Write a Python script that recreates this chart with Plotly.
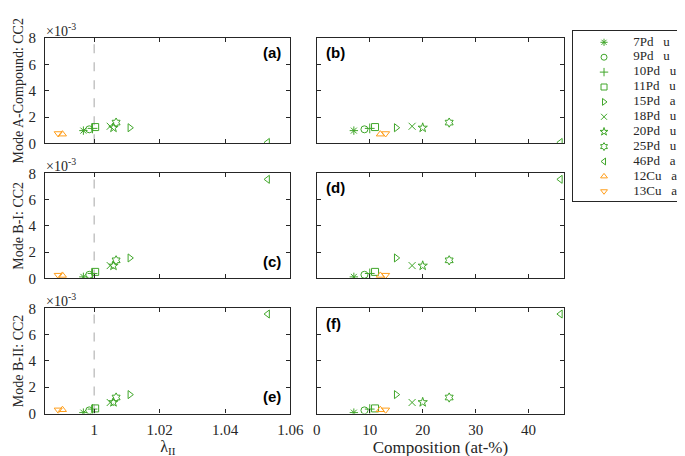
import plotly.graph_objects as go

# ---------------- data ----------------
labels = ["7Pd", "9Pd", "10Pd", "11Pd", "15Pd", "18Pd", "20Pd", "25Pd", "46Pd", "12Cu", "13Cu"]
states = ["u", "u", "u", "u", "a", "u", "u", "u", "a", "a", "a"]
symbols = ["asterisk-open", "circle-open", "cross-thin-open", "square-open",
           "triangle-right-open", "x-thin-open", "star-open", "hexagram-open",
           "triangle-left-open", "triangle-up-open", "triangle-down-open"]
groups = ["Pd"] * 9 + ["Cu"] * 2

lambda_II = [0.9967, 0.9985, 0.9995, 1.0003, 1.0109, 1.0049, 1.0059, 1.0067, 1.0530, 0.9903, 0.9890]
composition = [7, 9, 10, 11, 15, 18, 20, 25, 46, 12, 13]

# CC2 values in units of 1e-3
cc2_A = [0.97, 1.07, 1.14, 1.24, 1.19, 1.30, 1.19, 1.58, 0.07, 0.70, 0.75]
cc2_BI = [0.12, 0.28, 0.38, 0.50, 1.56, 0.98, 0.97, 1.38, 7.54, 0.23, 0.25]
cc2_BII = [0.07, 0.24, 0.34, 0.39, 1.44, 0.84, 0.86, 1.22, 7.57, 0.29, 0.28]

row_titles = ["Mode A-Compound: CC2", "Mode B-I: CC2", "Mode B-II: CC2"]
panel_labels = ["(a)", "(b)", "(c)", "(d)", "(e)", "(f)"]
y_ticks = [0, 2, 4, 6, 8]
lam_ticks = [1, 1.02, 1.04, 1.06]
lam_ticktext = ["1", "1.02", "1.04", "1.06"]
comp_ticks = [0, 10, 20, 30, 40]

colors = {"Pd": "#40a62a", "Cu": "#ff9e1b"}
names = [f"{l}&nbsp;&nbsp;&nbsp;{s}" for l, s in zip(labels, states)]
series_colors = [colors[g] for g in groups]

# ---------------- layout geometry ----------------
W, H = 685, 456
xdom_left = [34 / W, 286 / W]
xdom_right = [313 / W, 567 / W]
rows_px = [(23, 132), (163, 272), (303, 412)]
ydoms = [[1 - b / H, 1 - t / H] for t, b in rows_px]
leg_x = [576 / W, 683 / W]
leg_y = [1 - 192 / H, 1 - 16 / H]

serif = "Liberation Serif, Times New Roman, serif"
axcol = "#262626"
tickfont = dict(family=serif, size=15, color=axcol)

fig = go.Figure()
layout = dict(
    width=W, height=H, margin=dict(l=0, r=0, t=0, b=0),
    plot_bgcolor="white", paper_bgcolor="white",
    font=dict(family=serif, size=13, color=axcol),
    showlegend=False,
)

yvals = [cc2_A, cc2_BI, cc2_BII]
annotations = []
shapes = []
for r in range(3):
    for c in range(2):
        idx = r * 2 + c + 1
        xa = "x" if idx == 1 else f"x{idx}"
        ya = "y" if idx == 1 else f"y{idx}"
        xvals = lambda_II if c == 0 else composition
        for i in range(len(names)):
            fig.add_trace(go.Scatter(
                x=[xvals[i]], y=[yvals[r][i]], xaxis=xa, yaxis=ya,
                mode="markers", name=labels[i],
                marker=dict(symbol=symbols[i], size=7,
                            color=series_colors[i],
                            line=dict(width=1, color=series_colors[i])),
            ))
        xkey = "xaxis" if idx == 1 else f"xaxis{idx}"
        ykey = "yaxis" if idx == 1 else f"yaxis{idx}"
        bottom = (r == 2)
        xax = dict(
            domain=xdom_left if c == 0 else xdom_right,
            anchor=ya, showline=True, mirror="ticks", linecolor=axcol, linewidth=1.2,
            ticks="inside", ticklen=4, tickcolor=axcol, showgrid=False, zeroline=False,
            showticklabels=bottom, tickfont=tickfont, ticklabelstandoff=2,
        )
        if c == 0:
            xax.update(range=[0.985, 1.06], tickvals=lam_ticks, ticktext=lam_ticktext)
            if bottom:
                xax.update(title=dict(text="λ<sub>II</sub>", font=dict(family=serif, size=16, color=axcol), standoff=0))
        else:
            xax.update(range=[0, 46.7], tickvals=comp_ticks)
            if bottom:
                xax.update(title=dict(text="Composition (at-%)", font=dict(family=serif, size=17, color=axcol), standoff=2))
        yax = dict(
            domain=ydoms[r], anchor=xa, showline=True, mirror="ticks", linecolor=axcol, linewidth=1.2,
            ticks="inside", ticklen=4, tickcolor=axcol, showgrid=False, zeroline=False,
            range=[0, 8], tickvals=y_ticks, showticklabels=(c == 0),
            tickfont=tickfont, ticklabelstandoff=5,
        )
        if c == 0:
            yax.update(title=dict(text=row_titles[r], font=dict(family=serif, size=14, color=axcol), standoff=1))
        layout[xkey] = xax
        layout[ykey] = yax

        if c == 0:
            # dashed line at lambda = 1
            shapes.append(dict(type="line", xref=xa, yref=f"{ya} domain", x0=1, x1=1, y0=0, y1=1,
                               line=dict(color="#bbbbbb", width=1.3, dash="dash"), layer="below"))
            # exponent label
            annotations.append(dict(text="×10<sup>-3</sup>", xref=f"{xa} domain", yref=f"{ya} domain",
                                    x=0, y=1, xanchor="left", yanchor="bottom", showarrow=False,
                                    font=dict(family=serif, size=14, color=axcol), xshift=-1, yshift=-3))
        # panel label
        lab = panel_labels[idx - 1]
        if c == 1:
            ax_x, ax_y, xan, yan = 0.03, 0.96, "left", "top"
        elif r == 0:
            ax_x, ax_y, xan, yan = 0.97, 0.96, "right", "top"
        else:
            ax_x, ax_y, xan, yan = 0.97, 0.06, "right", "bottom"
        annotations.append(dict(text=f"<b>{lab}</b>", xref=f"{xa} domain", yref=f"{ya} domain",
                                x=ax_x, y=ax_y, xanchor=xan, yanchor=yan, showarrow=False,
                                font=dict(family="Liberation Sans, Arial, sans-serif", size=15, color="black")))

# ---------------- legend (boxed key drawn in its own axes) ----------------
entry_idx = list(range(len(names)))
fig.add_trace(go.Scatter(
    x=[32] * len(names), y=entry_idx, xaxis="x7", yaxis="y7", mode="markers",
    marker=dict(symbol=symbols, size=6, color=series_colors,
                line=dict(width=1, color=series_colors)),
    hoverinfo="skip",
))
fig.add_trace(go.Scatter(
    x=[62] * len(names), y=entry_idx, xaxis="x7", yaxis="y7", mode="text",
    text=names, textposition="middle right",
    textfont=dict(family=serif, size=13, color=axcol), hoverinfo="skip",
))
layout["xaxis7"] = dict(domain=leg_x, anchor="y7", range=[0, 107], showline=True, mirror=True,
                        linecolor=axcol, linewidth=1.2, showgrid=False, zeroline=False,
                        showticklabels=False, ticks="", fixedrange=True)
layout["yaxis7"] = dict(domain=leg_y, anchor="x7", range=[10.67, -0.73], showline=True, mirror=True,
                        linecolor=axcol, linewidth=1.2, showgrid=False, zeroline=False,
                        showticklabels=False, ticks="", fixedrange=True)

layout["annotations"] = annotations
layout["shapes"] = shapes
fig.update_layout(**layout)
fig.write_html("out.html")
